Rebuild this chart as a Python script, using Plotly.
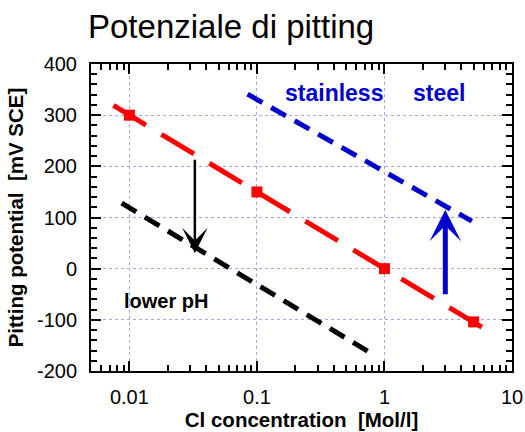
import numpy as np
import plotly.graph_objects as go

# Axis ticks
conc_ticks = [0.01, 0.1, 1, 10]
conc_tick_labels = ["0.01", "0.1", "1", "10"]
conc_minor = [0.006, 0.007, 0.008, 0.009,
              0.02, 0.03, 0.04, 0.05, 0.06, 0.07, 0.08, 0.09,
              0.2, 0.3, 0.4, 0.5, 0.6, 0.7, 0.8, 0.9,
              2, 3, 4, 5, 6, 7, 8, 9]
pot_ticks = [-200, -100, 0, 100, 200, 300, 400]
pot_tick_labels = ["-200", "-100", "0", "100", "200", "300", "400"]

# Reference curve (red): measured points and trend line
red_pts_c = [0.01, 0.1, 1, 5]
red_pts_e = [300, 150, 0, -104]
red_line_c = [0.0075, 0.01, 0.1, 1, 5, 7.6]
red_line_e = [319, 300, 150, 0, -105, -132]

# Stainless steel (blue)
blue_line_c = [0.0845, 4.84]
blue_line_e = [341, 93]

# Lower pH (black)
black_line_c = [0.0087, 0.746]
black_line_e = [128, -162]

# Shift arrows: (concentration, from, to)
arrow_down = (0.0326, 216, 30)
arrow_up = (3.0, -53, 115)

# Text labels: (concentration, potential, text)
label_stainless = (0.404, 343, "stainless")
label_steel = (2.67, 343, "steel")
label_ph = (0.0194, -64, "lower pH")

FONT = "Liberation Sans, Arial, Helvetica, sans-serif"

fig = go.Figure()

fig.add_trace(go.Scatter(
    x=red_line_c, y=red_line_e, mode="lines",
    line=dict(color="#ff0000", width=5, dash="38px,18px"),
    hoverinfo="skip", showlegend=False))
fig.add_trace(go.Scatter(
    x=red_pts_c, y=red_pts_e, mode="markers",
    marker=dict(symbol="square", size=11, color="#ff0000"),
    showlegend=False))
fig.add_trace(go.Scatter(
    x=blue_line_c, y=blue_line_e, mode="lines",
    line=dict(color="#0000cc", width=5, dash="17px,10px"),
    hoverinfo="skip", showlegend=False))
fig.add_trace(go.Scatter(
    x=black_line_c, y=black_line_e, mode="lines",
    line=dict(color="#000000", width=5, dash="17px,10px"),
    hoverinfo="skip", showlegend=False))

# Arrows
for (c, e0, e1), col, w, sz in [(arrow_down, "#000000", 2.5, 1.7),
                                 (arrow_up, "#0000cc", 5, 1.05)]:
    fig.add_annotation(
        x=np.log10(c), y=e1, ax=np.log10(c), ay=e0,
        xref="x", yref="y", axref="x", ayref="y",
        text="", showarrow=True, arrowhead=3, arrowsize=sz,
        arrowwidth=w, arrowcolor=col, standoff=0, startstandoff=0)

# Labels
for (c, e, txt), col, sz in [(label_stainless, "#0000cc", 23),
                             (label_steel, "#0000cc", 23),
                             (label_ph, "#000000", 20)]:
    fig.add_annotation(x=np.log10(c), y=e, xref="x", yref="y",
                       text="<b>" + txt + "</b>", showarrow=False,
                       font=dict(family=FONT, size=sz, color=col))

axis_common = dict(
    showline=True, linecolor="black", linewidth=2, mirror="allticks",
    ticks="inside", ticklen=10, tickwidth=1.5, tickcolor="black",
    showgrid=True, gridcolor="#a4a4ec", gridwidth=1, griddash="dot",
    zeroline=False, automargin=False,
    tickfont=dict(family=FONT, size=20, color="black"),
)

fig.update_xaxes(
    type="log", range=[np.log10(0.005), 1.0],
    tickmode="array", tickvals=conc_ticks, ticktext=conc_tick_labels,
    minor=dict(tickmode="array", tickvals=conc_minor, ticks="inside",
               ticklen=6, tickwidth=1.5, tickcolor="black", showgrid=False),
    title=dict(text="<b>Cl concentration&nbsp; [Mol/l]</b>", standoff=4,
               font=dict(family=FONT, size=20.5, color="black")),
    ticklabelstandoff=7,
    **axis_common)
fig.update_yaxes(
    range=[-200, 400],
    tickmode="array", tickvals=pot_ticks, ticktext=pot_tick_labels,
    minor=dict(dtick=20, ticks="inside", ticklen=6, tickwidth=1.5,
               tickcolor="black", showgrid=False),
    title=dict(text="<b>Pitting potential&nbsp; [mV SCE]</b>", standoff=8,
               font=dict(family=FONT, size=20.5, color="black")),
    ticklabelstandoff=8,
    **axis_common)

fig.update_layout(
    width=525, height=432,
    margin=dict(l=91, r=13, t=64, b=61),
    paper_bgcolor="white", plot_bgcolor="white",
    title=dict(text="Potenziale di pitting", x=88 / 525, xanchor="left",
               xref="container", y=1 - 26 / 432, yanchor="middle",
               yref="container",
               font=dict(family=FONT, size=33, color="black")),
    showlegend=False,
)

fig.write_html("out.html")
